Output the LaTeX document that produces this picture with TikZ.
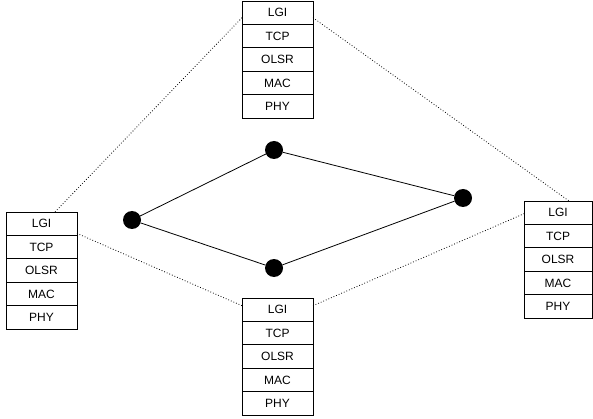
\documentclass[tikz,border=0pt]{standalone}
\usepackage{fontspec}
\setmainfont{Liberation Sans}
\begin{document}
\begin{tikzpicture}[x=1pt,y=-1pt,
  layer/.style={draw=black, line width=0.8pt, minimum height=23.4pt,
    inner sep=0pt, outer sep=0pt, font=\fontsize{12}{14}\selectfont},
  host/.style={circle, fill=black, minimum size=18pt, inner sep=0pt},
  link/.style={line width=0.8pt, black},
  tie/.style={dotted, line width=0.8pt, black}]
\useasboundingbox (0,0) rectangle (593,419);

% protocol stacks: name / centre x / top y / width
\foreach \n/\x/\y/\w in {t/277.5/1/71, l/41.5/212/71, r/558/201/68, b/277.5/298/71}{
  \foreach \lab [count=\i] in {LGI,TCP,OLSR,MAC,PHY}{
    \node[layer, minimum width=\w pt] (\n\i) at (\x, {\y+(\i-0.5)*23.4}) {\lab};
  }
}

% network nodes
\node[host] (hl) at (132,220) {};
\node[host] (ht) at (274,150) {};
\node[host] (hr) at (463,198) {};
\node[host] (hb) at (274,268) {};

\draw[link] (hl) -- (ht) -- (hr) -- (hb) -- (hl);

% dotted ties between stacks
\draw[tie] ([yshift=-5pt]t1.west) -- ([xshift=13.5pt]l1.north);
\draw[tie] ([yshift=-5pt]t1.east) -- ([xshift=11pt]r1.north);
\draw[tie] ([yshift=2pt]l1.south east) -- ([yshift=4pt]b1.west);
\draw[tie] ([yshift=4pt]b1.east) -- ([yshift=-1pt]r1.west);
\end{tikzpicture}
\end{document}
